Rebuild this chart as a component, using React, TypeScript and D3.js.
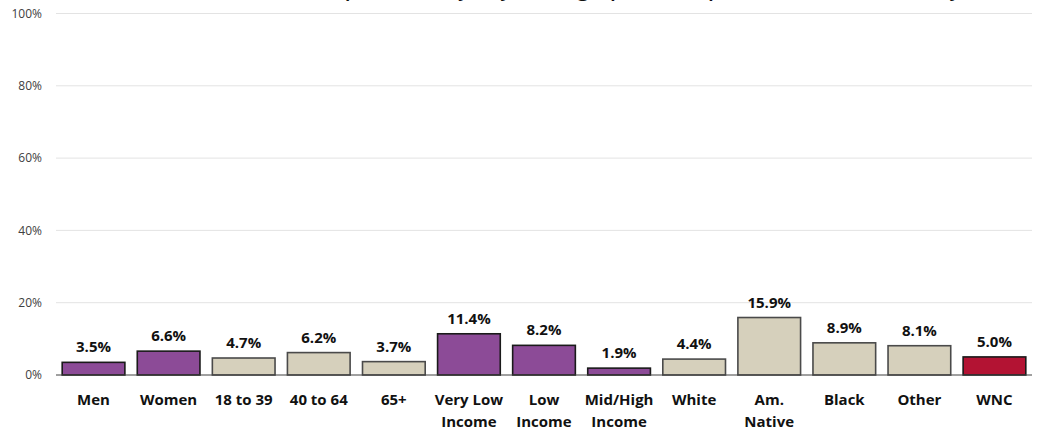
import React from "react";
import * as d3 from "d3";

const categories: string[][] = [
  ["Men"], ["Women"], ["18 to 39"], ["40 to 64"], ["65+"],
  ["Very Low", "Income"], ["Low", "Income"], ["Mid/High", "Income"],
  ["White"], ["Am.", "Native"], ["Black"], ["Other"], ["WNC"],
];
const values: number[] = [3.5, 6.6, 4.7, 6.2, 3.7, 11.4, 8.2, 1.9, 4.4, 15.9, 8.9, 8.1, 5.0];
const groups: string[] = ["purple", "purple", "beige", "beige", "beige", "purple", "purple", "purple", "beige", "beige", "beige", "beige", "red"];
const yTicks: number[] = [0, 20, 40, 60, 80, 100];
const title = "(Percent of Adults Who Report This, by Key Demographic Group, Past Year; WNC Survey)";

const fills: Record<string, string> = { purple: "#8C4B97", beige: "#D6D0BC", red: "#B31333" };
const strokes: Record<string, string> = { purple: "#1a1a1a", beige: "#4a4a4a", red: "#1a1a1a" };

export default function App() {
  const W = 1039, H = 431;
  const left = 56, right = 1032, top = 13.5, bottom = 375;
  const x = d3.scaleBand<number>().domain(d3.range(values.length)).range([left, right]).paddingInner(0.165).paddingOuter(0.0825);
  const y = d3.scaleLinear().domain([0, 100]).range([bottom, top]);
  const font = "'Open Sans', 'Noto Sans', sans-serif";
  return (
    <svg width={W} height={H} style={{ position: "fixed", left: 0, top: 0, background: "#fff" }} fontFamily={font}>
      <text x={525} y={-4} textAnchor="middle" fontSize={21} fontWeight={600} fill="#111" textLength={885} lengthAdjust="spacing">{title}</text>
      {yTicks.map((t) => (
        <g key={t}>
          {t > 0 && <line x1={left} x2={right} y1={y(t)} y2={y(t)} stroke="#e3e3e3" strokeWidth={1} />}
          <text x={42} y={y(t)} dy="0.35em" textAnchor="end" fontSize={12} fill="#404040">{`${t}%`}</text>
        </g>
      ))}
      {values.map((v, i) => (
        <g key={i}>
          <rect x={x(i)!} y={y(v)} width={x.bandwidth()} height={bottom - y(v)} fill={fills[groups[i]]} stroke={strokes[groups[i]]} strokeWidth={1.6} />
          <text x={x(i)! + x.bandwidth() / 2} y={y(v) - 10} textAnchor="middle" fontSize={15} fontWeight={700} fill="#111">{`${v.toFixed(1)}%`}</text>
          {categories[i].map((line, j) => (
            <text key={j} x={x(i)! + x.bandwidth() / 2} y={405 + j * 22} textAnchor="middle" fontSize={15} fontWeight={700} fill="#111">{line}</text>
          ))}
        </g>
      ))}
      <line x1={left} x2={right} y1={bottom} y2={bottom} stroke="#404040" strokeWidth={1} />
    </svg>
  );
}
